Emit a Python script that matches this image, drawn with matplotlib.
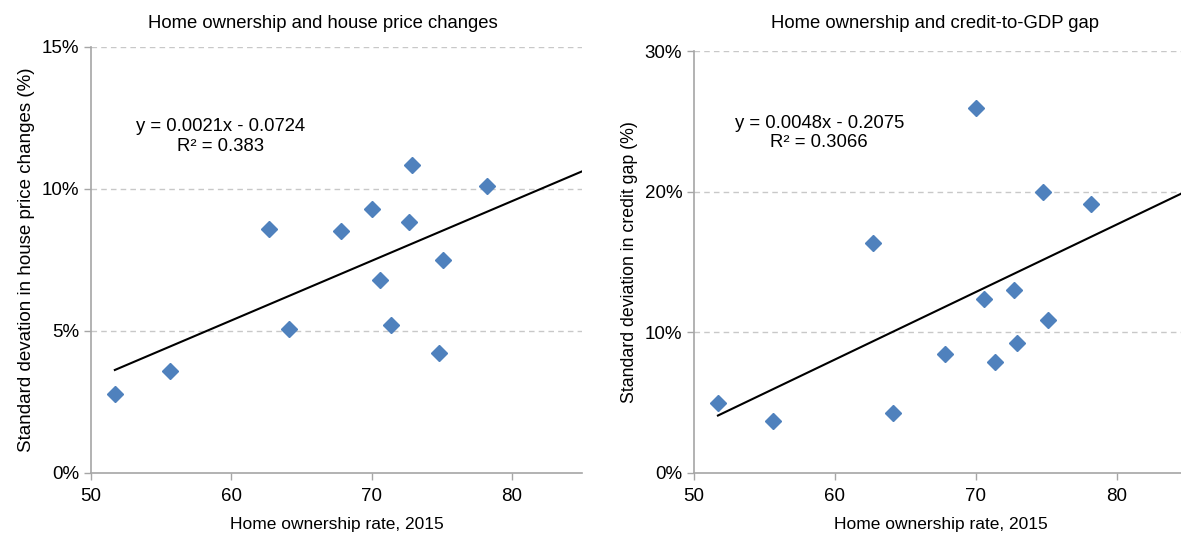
import matplotlib
matplotlib.use("Agg")
import matplotlib.pyplot as plt
import numpy as np
from matplotlib.ticker import PercentFormatter

plt.rcParams['font.family'] = ['Liberation Sans', 'DejaVu Sans']

# Home ownership rate 2015 (same countries in both panels)
ownership = [51.7, 55.6, 62.7, 64.1, 67.8, 70.0, 70.6, 71.4, 72.7, 72.9, 74.8, 75.1, 78.2]
# std dev of house price changes, % (left panel)
house_sd = [2.76, 3.58, 8.59, 5.06, 8.51, 9.28, 6.80, 5.19, 8.83, 10.85, 4.23, 7.49, 10.11]
# std dev of credit gap, % (right panel)
credit_sd = [4.93, 3.70, 16.34, 4.27, 8.47, 25.92, 12.35, 7.90, 13.02, 9.20, 19.97, 10.86, 19.14]

# trend lines as printed on the chart (y in fractions)
house_fit = (0.0021, -0.0724, "0.383")
credit_fit = (0.0048, -0.2075, "0.3066")

blue = "#4F81BD"
grey = "#A6A6A6"

fig = plt.figure(figsize=(11.81, 5.36), dpi=100)
W, H = 1181, 536

def make_ax(x0, x1, ytop, ybot):
    return fig.add_axes([x0 / W, 1 - ybot / H, (x1 - x0) / W, (ybot - ytop) / H])

ax1 = make_ax(91, 582, 46.7, 472.7)
ax2 = make_ax(694, 1187, 51, 472.7)

panels = [
    (ax1, house_sd, house_fit, 15, 5, "Home ownership and house price changes",
     "Standard devation in house price changes (%)", 13.5, (0.263, 0.789), 323),
    (ax2, credit_sd, credit_fit, 30, 10, "Home ownership and credit-to-GDP gap",
     "Standard deviation in credit gap (%)", 12.8, (0.254, 0.806), 935),
]

for ax, yvals, fit, ymax, ystep, title, ylabel, ylsize, txtpos, tx in panels:
    slope, icpt, r2 = fit
    xs = np.array([min(ownership), 85])
    ax.plot(xs, (slope * xs + icpt) * 100, color="black", lw=1.5, zorder=2)
    ax.plot(ownership, yvals, linestyle="none", marker="D", markersize=8.5,
            color=blue, zorder=3)

    ax.set_xlim(50, 85)
    ax.set_ylim(0, ymax)
    ax.set_xticks([50, 60, 70, 80])
    ax.set_yticks(np.arange(0, ymax + 0.1, ystep))
    ax.yaxis.set_major_formatter(PercentFormatter(decimals=0))
    for y in np.arange(ystep, ymax + 0.1, ystep):
        ax.axhline(y, color="#C8C8C8", lw=1, ls=(0, (4, 3)), zorder=1)

    for s in ["top", "right"]:
        ax.spines[s].set_visible(False)
    for s in ["left", "bottom"]:
        ax.spines[s].set_color(grey)
        ax.spines[s].set_linewidth(1.2)
    ax.tick_params(color=grey, length=5, width=1, labelsize=13.5, labelcolor="black")
    ax.tick_params(axis="x", pad=6)
    ax.set_xlabel("Home ownership rate, 2015", fontsize=12.5, labelpad=9)
    ax.set_ylabel(ylabel, fontsize=ylsize, labelpad=5)

    eq = "y = %.4fx - %.4f\nR² = %s" % (slope, -icpt, r2)
    ax.text(txtpos[0], txtpos[1], eq, transform=ax.transAxes, ha="center",
            va="center", multialignment="center", fontsize=13.3, linespacing=1.2)

    fig.text(tx / W, 1 - 23 / H, title, ha="center", va="center", fontsize=13.3)

fig.savefig("out.png", dpi=100)
